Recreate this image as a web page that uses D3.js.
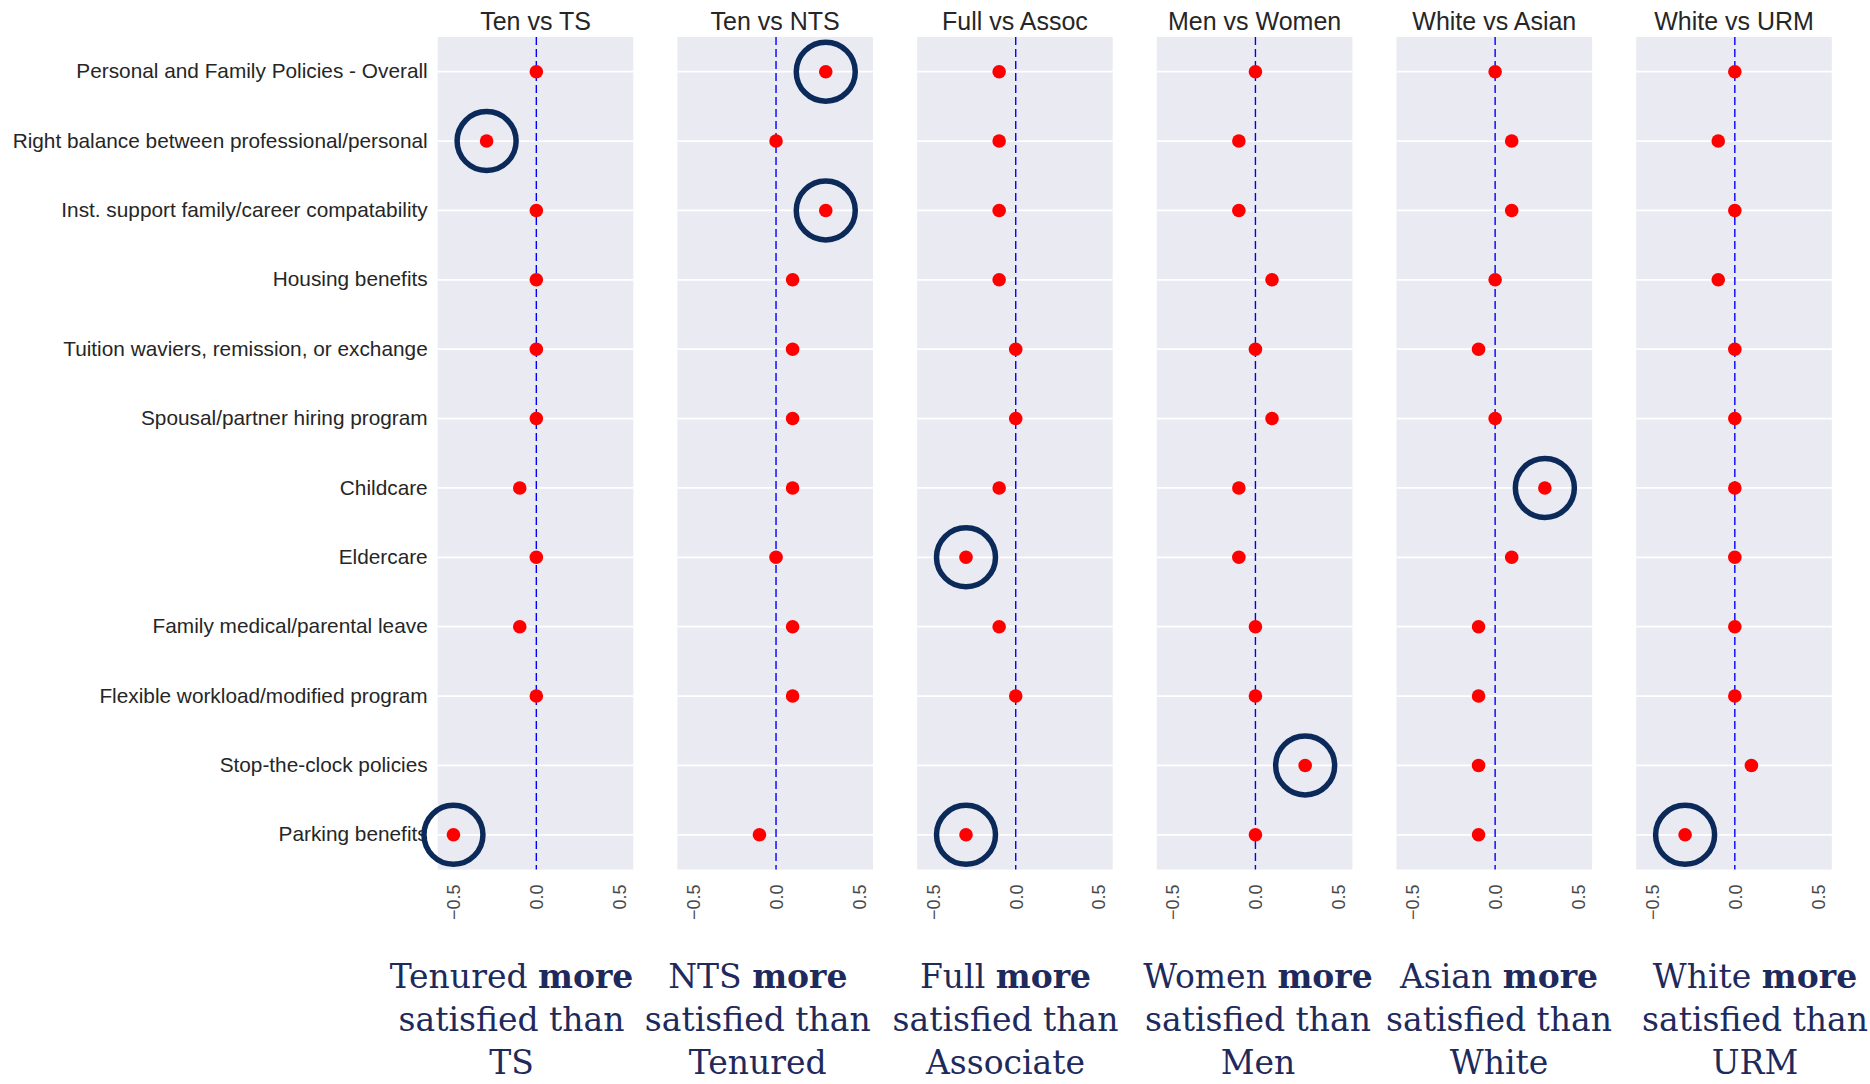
<!DOCTYPE html>
<html>
<head>
<meta charset="utf-8">
<script src="https://cdn.jsdelivr.net/npm/d3@7"></script>
<style>
  html, body { margin: 0; padding: 0; background: #fff; }
  svg { display: block; }
</style>
</head>
<body>
<svg id="chart" width="1870" height="1084"></svg>
<script>
// Survey items (rows, top to bottom)
const categories = [
  "Personal and Family Policies - Overall",
  "Right balance between professional/personal",
  "Inst. support family/career compatability",
  "Housing benefits",
  "Tuition waviers, remission, or exchange",
  "Spousal/partner hiring program",
  "Childcare",
  "Eldercare",
  "Family medical/parental leave",
  "Flexible workload/modified program",
  "Stop-the-clock policies",
  "Parking benefits"
];

// Group comparisons (one panel each)
const comparisons = ["Ten vs TS", "Ten vs NTS", "Full vs Assoc", "Men vs Women", "White vs Asian", "White vs URM"];

// Difference in mean satisfaction per item (null = not asked)
const tenVsTS     = [0.0, -0.3, 0.0, 0.0, 0.0, 0.0, -0.1, 0.0, -0.1, 0.0, null, -0.5];
const tenVsNTS    = [0.3, 0.0, 0.3, 0.1, 0.1, 0.1, 0.1, 0.0, 0.1, 0.1, null, -0.1];
const fullVsAssoc = [-0.1, -0.1, -0.1, -0.1, 0.0, 0.0, -0.1, -0.3, -0.1, 0.0, null, -0.3];
const menVsWomen  = [0.0, -0.1, -0.1, 0.1, 0.0, 0.1, -0.1, -0.1, 0.0, 0.0, 0.3, 0.0];
const whiteVsAsian = [0.0, 0.1, 0.1, 0.0, -0.1, 0.0, 0.3, 0.1, -0.1, -0.1, -0.1, -0.1];
const whiteVsURM  = [0.0, -0.1, 0.0, -0.1, 0.0, 0.0, 0.0, 0.0, 0.0, 0.0, 0.1, -0.3];
const seriesValues = [tenVsTS, tenVsNTS, fullVsAssoc, menVsWomen, whiteVsAsian, whiteVsURM];

// Items singled out in each comparison (row indices)
const highlighted = [[1, 11], [0, 2], [7, 11], [10], [6], [11]];

// Axis ticks
const xTicks = [-0.5, 0.0, 0.5];

// Captions under each panel: "<lead> more / satisfied than / <tail>"
const captionLead = ["Tenured", "NTS", "Full", "Women", "Asian", "White"];
const captionTail = ["TS", "Tenured", "Associate", "Men", "White", "URM"];

// ---- layout ----
const panelLeft = 437.7, panelStep = 239.7, panelWidth = 195.6;
const plotTop = 37, plotBottom = 869.5;
const captionCenters = [511.5, 757.8, 1005.5, 1258, 1499, 1755];
const captionBaselines = [988, 1031, 1074];

const svg = d3.select("#chart");
const sansFont = "'Liberation Sans', Arial, sans-serif";
const serifFont = "'DejaVu Serif', 'Liberation Serif', serif";

const y = d3.scaleBand().domain(categories).range([plotTop, plotBottom]).padding(0);
const rowY = d => y(d) + y.bandwidth() / 2;

comparisons.forEach((name, i) => {
  const x0 = panelLeft + i * panelStep;
  const x = d3.scaleLinear().domain([-0.595, 0.585]).range([x0, x0 + panelWidth]);
  const g = svg.append("g");

  // panel background
  g.append("rect")
    .attr("x", x0).attr("y", plotTop)
    .attr("width", panelWidth).attr("height", plotBottom - plotTop)
    .attr("fill", "#eaeaf2");

  // horizontal grid at each item
  g.selectAll("line.grid").data(categories).enter().append("line")
    .attr("class", "grid")
    .attr("x1", x0).attr("x2", x0 + panelWidth)
    .attr("y1", rowY).attr("y2", rowY)
    .attr("stroke", "#ffffff").attr("stroke-width", 1.8);

  // zero reference
  g.append("line")
    .attr("x1", x(0)).attr("x2", x(0))
    .attr("y1", plotTop).attr("y2", plotBottom)
    .attr("stroke", "#0000ff").attr("stroke-width", 1.4)
    .attr("stroke-dasharray", "8,4");

  // title
  g.append("text")
    .attr("x", x0 + panelWidth / 2).attr("y", 29.5)
    .attr("text-anchor", "middle")
    .attr("font-family", sansFont).attr("font-size", 25)
    .attr("fill", "#262626")
    .text(name);

  // x axis tick labels (rotated)
  const xAxis = d3.axisBottom(x).tickValues(xTicks).tickSize(0).tickPadding(0)
    .tickFormat(d3.format(".1f"));
  const ax = g.append("g").attr("transform", `translate(0,${plotBottom})`).call(xAxis);
  ax.select(".domain").remove();
  ax.selectAll("text")
    .attr("font-family", sansFont).attr("font-size", 18)
    .attr("fill", "#4a4a4a")
    .attr("text-anchor", "end")
    .attr("y", 0).attr("dy", "0.35em")
    .attr("transform", "translate(0,15) rotate(-90)");

  // y axis labels on the first panel only
  if (i === 0) {
    const yAxis = d3.axisLeft(y).tickSize(0).tickPadding(10);
    const ay = g.append("g").attr("transform", `translate(${x0},0)`).call(yAxis);
    ay.select(".domain").remove();
    ay.selectAll("text")
      .attr("font-family", sansFont).attr("font-size", 20.8)
      .attr("fill", "#262626");
  }

  const rows = categories.map((c, k) => ({ c, v: seriesValues[i][k], k }))
    .filter(d => d.v !== null);

  // points
  g.selectAll("circle.pt").data(rows).enter().append("circle")
    .attr("class", "pt")
    .attr("cx", d => x(d.v)).attr("cy", d => rowY(d.c))
    .attr("r", 6.8).attr("fill", "#ff0000");

  // highlight rings
  const hl = rows.filter(d => highlighted[i].includes(d.k));
  g.selectAll("circle.hl").data(hl).enter().append("circle")
    .attr("class", "hl")
    .attr("cx", d => x(d.v)).attr("cy", d => rowY(d.c))
    .attr("r", 29.5).attr("fill", "none")
    .attr("stroke", "#0b2a5a").attr("stroke-width", 5.5);

  // caption
  const cap = svg.append("text")
    .attr("text-anchor", "middle")
    .attr("font-family", serifFont).attr("font-size", 33)
    .attr("fill", "#1e2a5c");
  const l1 = cap.append("tspan").attr("x", captionCenters[i]).attr("y", captionBaselines[0]);
  l1.append("tspan").text(captionLead[i] + " ");
  l1.append("tspan").attr("font-weight", "bold").text("more");
  cap.append("tspan").attr("x", captionCenters[i]).attr("y", captionBaselines[1]).text("satisfied than");
  cap.append("tspan").attr("x", captionCenters[i]).attr("y", captionBaselines[2]).text(captionTail[i]);
});
</script>
</body>
</html>
